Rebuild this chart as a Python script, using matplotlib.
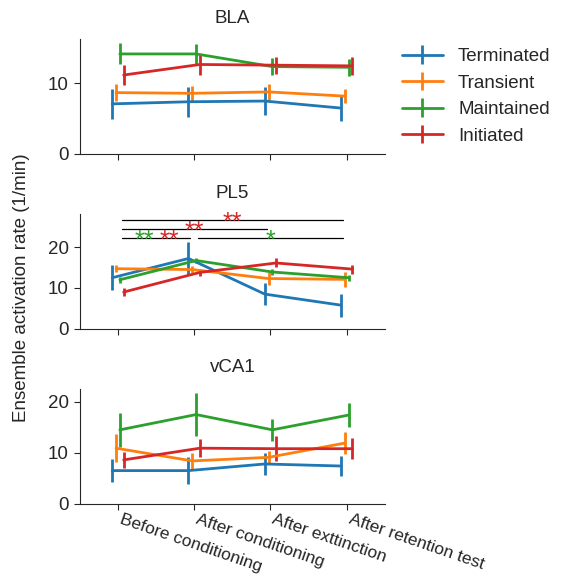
import numpy as np
import matplotlib
matplotlib.use("Agg")
import matplotlib.pyplot as plt
import seaborn as sns

sns.set_style("ticks")
plt.rcParams['font.family'] = ['Liberation Sans', 'DejaVu Sans']
plt.rcParams['font.size'] = 13.5
plt.rcParams['xtick.major.size'] = 4.5
plt.rcParams['ytick.major.size'] = 4.5

conditions = ["Before conditioning", "After conditioning", "After exttinction", "After retention test"]
groups = ["Terminated", "Transient", "Maintained", "Initiated"]
colors = ["#1f77b4", "#ff7f0e", "#2ca02c", "#d62728"]

# means and sem per region, one row per group
bla_mean = [[7.1, 7.4, 7.5, 6.5],
            [8.7, 8.6, 8.8, 8.2],
            [14.2, 14.2, 12.4, 12.3],
            [11.2, 12.7, 12.6, 12.5]]
bla_err = [[2.1, 2.1, 2.0, 1.9],
           [1.2, 1.1, 1.1, 1.0],
           [1.5, 1.4, 1.2, 1.2],
           [1.4, 1.5, 1.2, 1.3]]

pl5_mean = [[12.5, 17.2, 8.5, 5.8],
            [14.7, 14.5, 12.3, 12.1],
            [12.0, 16.7, 13.9, 12.5],
            [9.0, 13.8, 16.1, 14.6]]
pl5_err = [[3.1, 4.0, 2.7, 2.8],
           [0.8, 0.8, 1.6, 1.9],
           [0.7, 0.7, 0.7, 0.7],
           [1.0, 0.8, 1.1, 1.1]]

vca1_mean = [[6.5, 6.5, 7.8, 7.4],
             [10.9, 8.4, 9.1, 11.9],
             [14.5, 17.5, 14.5, 17.4],
             [8.6, 10.9, 10.8, 10.8]]
vca1_err = [[2.3, 2.6, 2.1, 2.0],
            [2.8, 1.5, 1.3, 2.2],
            [3.4, 4.3, 2.2, 2.3],
            [1.6, 1.8, 2.5, 2.1]]

regions = ["BLA", "PL5", "vCA1"]
means = [bla_mean, pl5_mean, vca1_mean]
errs = [bla_err, pl5_err, vca1_err]
ylims = [16.3, 28, 22.5]
yticks = [[0, 10], [0, 10, 20], [0, 10, 20]]

# PL5 significance bars: (x start, x end, y, [(x text, text, color)])
sig_bars = [(0.05, 2.95, 26.7, [(1.5, "**", colors[3])]),
            (0.05, 1.95, 24.5, [(1.0, "**", colors[3])]),
            (0.05, 0.95, 22.3, [(0.34, "**", colors[2]), (0.67, "**", colors[3])]),
            (1.05, 2.95, 22.3, [(2.0, "*", colors[2])])]

offsets = [-0.075, -0.025, 0.025, 0.075]

fig = plt.figure(figsize=(5.66, 5.76), dpi=100)
left, width, height = 0.141, 0.539, 0.199
bottoms = [0.733, 0.429, 0.1255]
axes = [fig.add_axes([left, b, width, height]) for b in bottoms]

x = np.arange(len(conditions))
for ax, region, m, e, yl, yt in zip(axes, regions, means, errs, ylims, yticks):
    for g in range(len(groups)):
        ax.errorbar(x + offsets[g], m[g], yerr=e[g], color=colors[g], lw=2,
                    elinewidth=2, capsize=0, label=groups[g])
    ax.set_xlim(-0.5, 3.5)
    ax.set_ylim(0, yl)
    ax.set_yticks(yt)
    ax.set_xticks(x)
    ax.set_title(region, fontsize=13.5, pad=12)
    sns.despine(ax=ax)
    if region != "vCA1":
        ax.set_xticklabels([])
    else:
        ax.set_xticklabels(conditions, rotation=-19, ha="left", fontsize=12.5)
        ax.tick_params(axis="x", pad=1.5)

ax = axes[1]
for x0, x1, y, labels in sig_bars:
    ax.plot([x0, x1], [y, y], color="black", lw=0.9, clip_on=False)
    for tx, txt, c in labels:
        ax.text(tx, y - 2.5, txt, color=c, ha="center", va="baseline", fontsize=18)

fig.text(22 / 566, 0.5, "Ensemble activation rate (1/min)", rotation=90,
         ha="center", va="center", fontsize=13.5, color="#262626")
axes[0].legend(loc="upper left", bbox_to_anchor=(1.0, 1.07), frameon=False,
               handlelength=2.2)

fig.savefig("out.png", dpi=100)
